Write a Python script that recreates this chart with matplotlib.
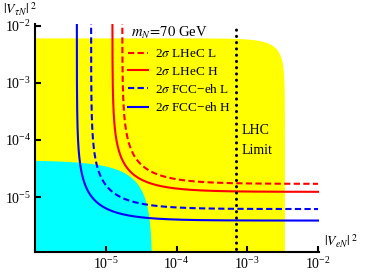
import matplotlib
matplotlib.use("Agg")
import matplotlib.pyplot as plt
from matplotlib.ticker import LogFormatterMathtext, NullLocator
import numpy as np

plt.rcParams['font.family'] = 'serif'
plt.rcParams['font.serif'] = ['Liberation Serif', 'DejaVu Serif']
plt.rcParams['mathtext.fontset'] = 'stix'

# sensitivity curves: asymptotic value c of |V_eN|^2 |V_tauN|^2 / (|V_eN|^2 + |V_tauN|^2) = c
labels = [r'2$\sigma$ LHeC L', r'2$\sigma$ LHeC H', r'2$\sigma$ FCC−eh L', r'2$\sigma$ FCC−eh H']
c_vals = [1.71e-5, 1.24e-5, 6.2e-6, 3.9e-6]
colors = ['red', 'red', 'blue', 'blue']
styles = ['--', '-', '--', '-']

# excluded / allowed regions
yellow_a, yellow_b, yellow_p = 3.4e-3, 6.0e-3, 2.0   # (x/a)^p + (y/b)^p < 1
cyan_sum = 4.5e-5                                      # x + y < cyan_sum
lhc_limit = 7.0e-4

fig = plt.figure(figsize=(3.82, 2.73), dpi=100)
ax = fig.add_axes([0.0916, 0.077, 0.7434, 0.835])

# yellow region
xl = np.concatenate([np.logspace(-7, np.log10(yellow_a * 0.5), 300),
                     yellow_a * (1 - np.logspace(np.log10(0.5), -9, 400))])
yl = yellow_b * np.clip(1 - (xl / yellow_a) ** yellow_p, 0, None) ** (1 / yellow_p)
ax.fill_between(xl, 1e-8, np.maximum(yl, 1e-8), color='#ffff00', lw=0)

# cyan region
xc = np.concatenate([np.logspace(-7, np.log10(cyan_sum * 0.5), 300),
                     cyan_sum * (1 - np.logspace(np.log10(0.5), -9, 400))])
yc = cyan_sum - xc
ax.fill_between(xc, 1e-8, np.maximum(yc, 1e-8), color='#00ffff', lw=0)

# curves
for lab, c, col, ls in zip(labels, c_vals, colors, styles):
    x = c * (1 + np.logspace(-6, np.log10(1e-2 / c - 1), 600))
    y = c * x / (x - c)
    if ls == '--':
        ax.plot(x, y, color=col, lw=1.5, ls=ls, dashes=(3, 1.6), label=lab)
    else:
        ax.plot(x, y, color=col, lw=1.5, ls=ls, label=lab)

# LHC limit
ax.plot([lhc_limit, lhc_limit], [1e-7, 1.03e-2], color='black', lw=2.2,
        ls=(0, (0.05, 2.0)), dash_capstyle='round')
ax.text(8.3e-4, 1.45e-4, 'LHC', fontsize=10, ha='left', va='center')
ax.text(8.3e-4, 6.5e-5, 'Limit', fontsize=10, ha='left', va='center')

ax.set_xscale('log')
ax.set_yscale('log')
ax.set_xlim(1e-6, 1.03e-2)
ax.set_ylim(1.1e-6, 1.07e-2)

ax.set_xticks([1e-5, 1e-4, 1e-3, 1e-2])
ax.set_yticks([1e-5, 1e-4, 1e-3, 1e-2])
ax.xaxis.set_major_formatter(LogFormatterMathtext())
ax.yaxis.set_major_formatter(LogFormatterMathtext())
ax.xaxis.set_minor_locator(NullLocator())
ax.yaxis.set_minor_locator(NullLocator())
ax.tick_params(direction='in', length=4, width=1.5, labelsize=10, pad=3)

for s in ['top', 'right']:
    ax.spines[s].set_visible(False)
for s in ['left', 'bottom']:
    ax.spines[s].set_linewidth(1.5)

ax.text(2.3e-5, 7.4e-3, r'$m_N\!=\!70$ GeV', fontsize=10.5, ha='left', va='center')
ax.legend(loc='upper left', bbox_to_anchor=(0.326, 0.895), frameon=False,
          fontsize=9.5, handlelength=1.55, handletextpad=0.5, labelspacing=0.4,
          borderpad=0, borderaxespad=0)

fig.text(0.008, 0.968, r'$|V_{\tau N}|^{\ 2}$', fontsize=10, ha='left', va='center')
fig.text(0.848, 0.118, r'$|V_{eN}|^{\ 2}$', fontsize=10, ha='left', va='center')

fig.savefig('out.png', dpi=100)
